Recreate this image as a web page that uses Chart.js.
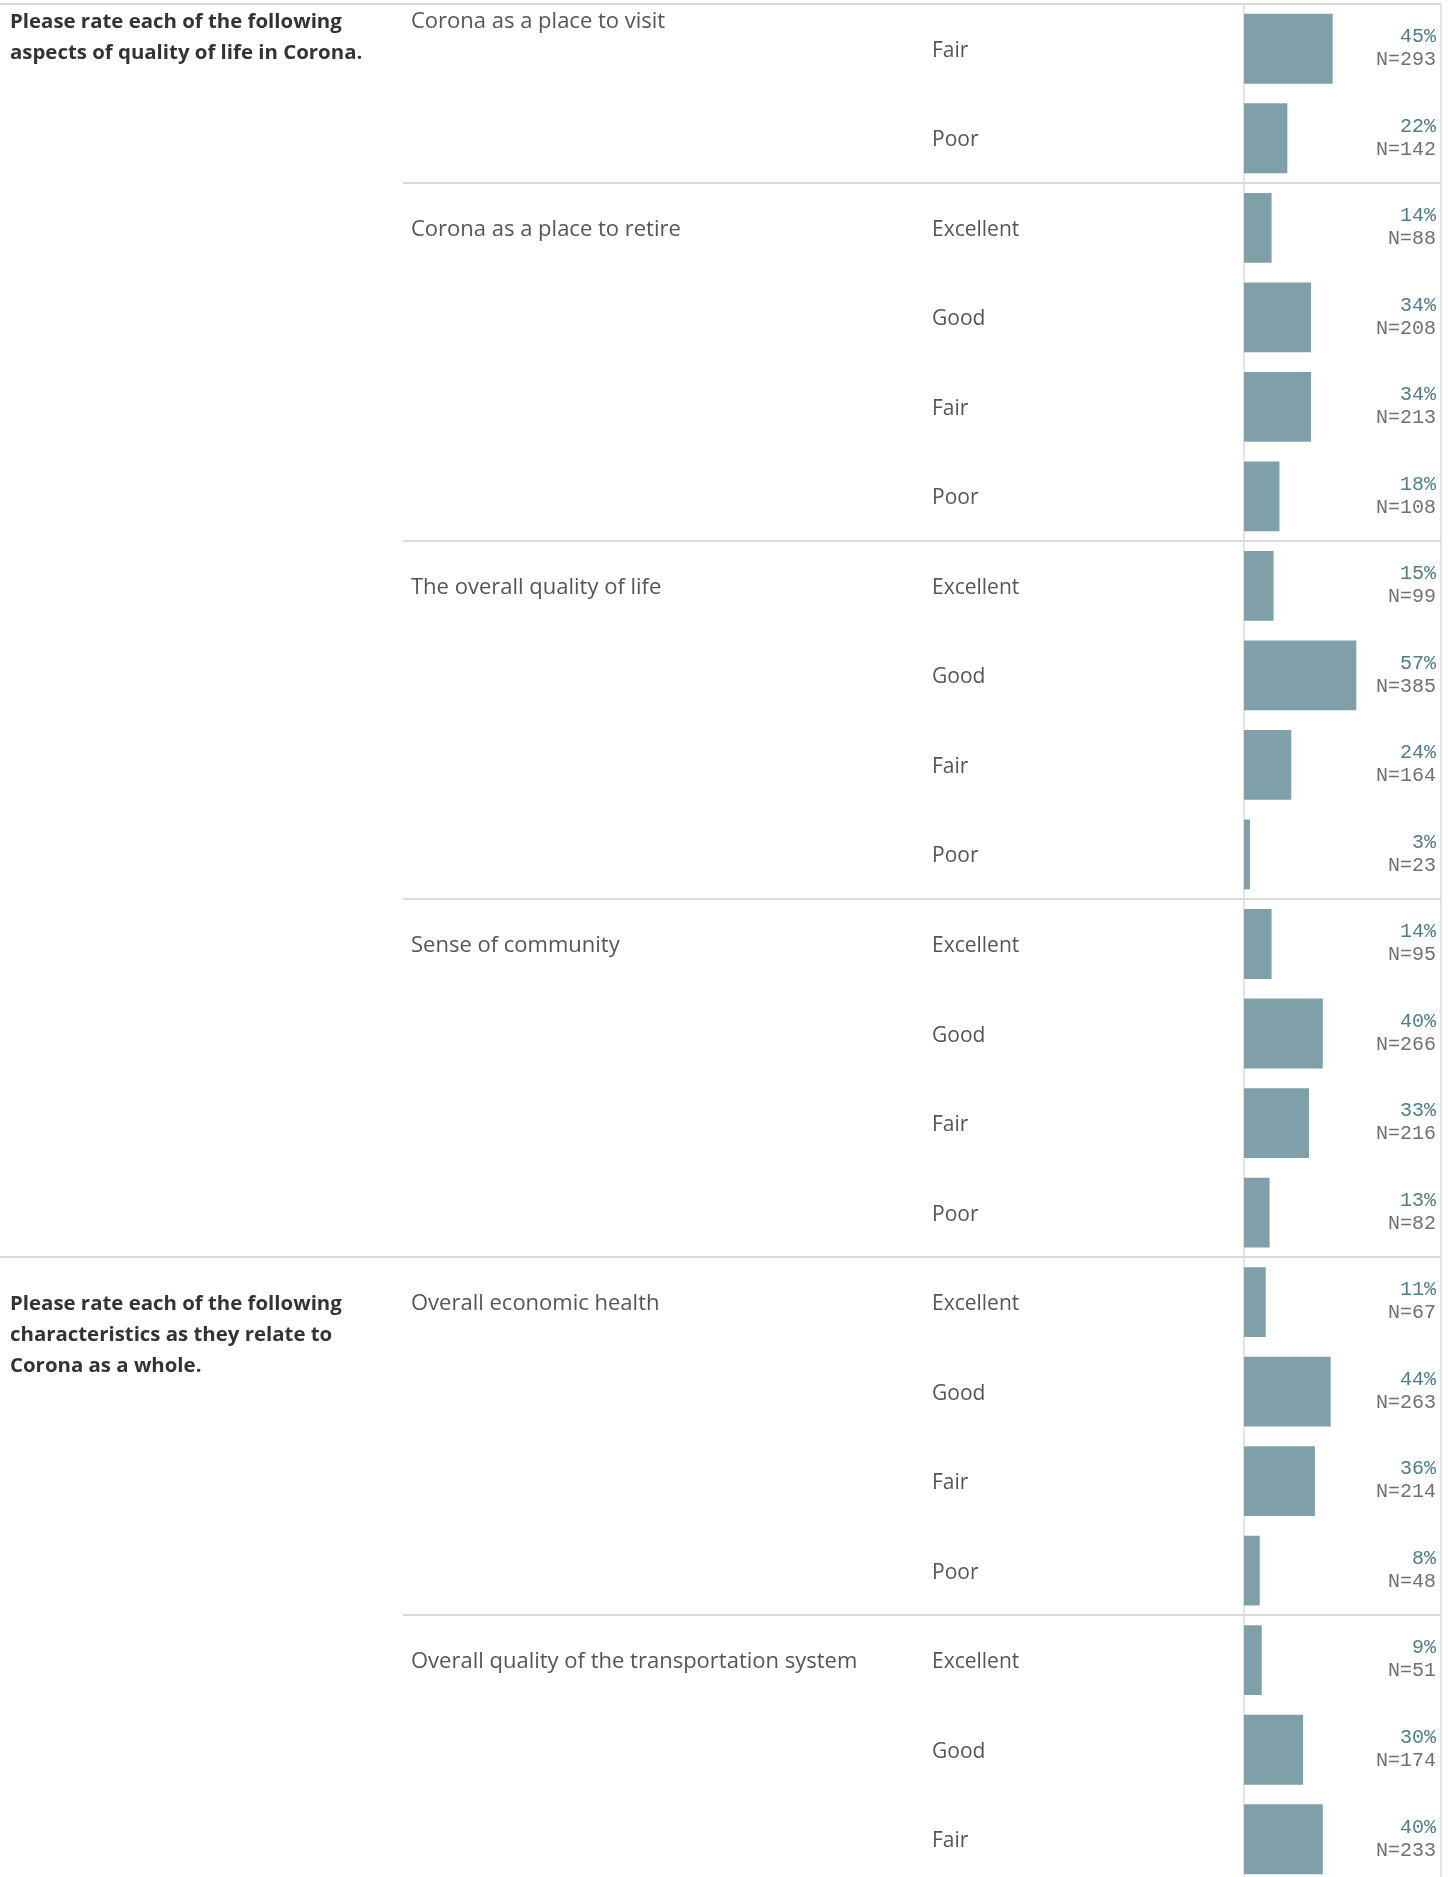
<!DOCTYPE html>
<html>
<head>
<meta charset="utf-8">
<script src="https://cdn.jsdelivr.net/npm/chart.js@4"></script>
<style>
  html, body { margin: 0; padding: 0; background: #fff; overflow: hidden; }
  #wrap { width: 1455px; height: 1877px; overflow: hidden; }
</style>
</head>
<body>
<div id="wrap"><canvas id="chart" width="1455" height="1884"></canvas></div>
<script>
// question groups (left column) and the items they contain
const groupTitles = [
  ["Please rate each of the following", "aspects of quality of life in Corona."],
  ["Please rate each of the following", "characteristics as they relate to", "Corona as a whole."]
];
const sectionNames = [
  "Corona as a place to visit",
  "Corona as a place to retire",
  "The overall quality of life",
  "Sense of community",
  "Overall economic health",
  "Overall quality of the transportation system"
];
const sectionGroup = [0, 0, 0, 0, 1, 1];

// one entry per visible row
const rowSection = [0, 0, 1, 1, 1, 1, 2, 2, 2, 2, 3, 3, 3, 3, 4, 4, 4, 4, 5, 5, 5];
const rowRatings = [
  "Fair", "Poor",
  "Excellent", "Good", "Fair", "Poor",
  "Excellent", "Good", "Fair", "Poor",
  "Excellent", "Good", "Fair", "Poor",
  "Excellent", "Good", "Fair", "Poor",
  "Excellent", "Good", "Fair"
];
const percents = [45, 22, 14, 34, 34, 18, 15, 57, 24, 3, 14, 40, 33, 13, 11, 44, 36, 8, 9, 30, 40];
const counts = [293, 142, 88, 208, 213, 108, 99, 385, 164, 23, 95, 266, 216, 82, 67, 263, 214, 48, 51, 174, 233];

const BAR_COLOR = "#7fa0a8";
const LINE_COLOR = "#dadada";
const SANS = "'Open Sans', 'Noto Sans', sans-serif";
const MONO = "'Courier New', 'Liberation Mono', monospace";

const tablePlugin = {
  id: "tableText",
  beforeDatasetsDraw(chart) {
    const ctx = chart.ctx;
    const area = chart.chartArea;
    const y = chart.scales.y;
    const half = (y.getPixelForValue(1) - y.getPixelForValue(0)) / 2;
    ctx.save();
    ctx.strokeStyle = LINE_COLOR;
    ctx.lineWidth = 2;
    // top rule
    ctx.beginPath();
    ctx.moveTo(0, area.top);
    ctx.lineTo(area.right, area.top);
    ctx.stroke();
    // section / group separators
    for (let i = 1; i < rowSection.length; i++) {
      if (rowSection[i] === rowSection[i - 1]) continue;
      const yy = Math.round(y.getPixelForValue(i) - half);
      const newGroup = sectionGroup[rowSection[i]] !== sectionGroup[rowSection[i - 1]];
      ctx.beginPath();
      ctx.moveTo(newGroup ? 0 : 403, yy);
      ctx.lineTo(area.right, yy);
      ctx.stroke();
    }
    // pane borders
    ctx.lineWidth = 1.5;
    ctx.beginPath();
    ctx.moveTo(area.left, area.top);
    ctx.lineTo(area.left, area.bottom);
    ctx.moveTo(area.right, area.top);
    ctx.lineTo(area.right, area.bottom);
    ctx.stroke();
    ctx.restore();
  },
  afterDatasetsDraw(chart) {
    const ctx = chart.ctx;
    const area = chart.chartArea;
    const y = chart.scales.y;
    ctx.save();
    ctx.textBaseline = "middle";

    // rating labels and value labels
    rowRatings.forEach((r, i) => {
      const cy = y.getPixelForValue(i);
      ctx.textAlign = "left";
      ctx.fillStyle = "#555555";
      ctx.font = "21px " + SANS;
      ctx.fillText(r, 932, cy + 2);
      ctx.textAlign = "right";
      ctx.font = "20px " + MONO;
      ctx.fillStyle = "#4f7e8b";
      ctx.fillText(percents[i] + "%", area.right - 5, cy - 12);
      ctx.fillStyle = "#707070";
      ctx.fillText("N=" + counts[i], area.right - 5, cy + 11);
    });

    // section labels (first one is pinned to the top, its earlier rows are scrolled off)
    ctx.textAlign = "left";
    sectionNames.forEach((name, s) => {
      const first = rowSection.indexOf(s);
      const cy = s === 0 ? area.top + 16 : y.getPixelForValue(first);
      ctx.fillStyle = "#555555";
      ctx.font = "22px " + SANS;
      ctx.fillText(name, 411, cy + 2);
    });

    // group titles
    groupTitles.forEach((lines, g) => {
      const firstSection = sectionGroup.indexOf(g);
      const first = rowSection.indexOf(firstSection);
      const cy = g === 0 ? area.top + 16 : y.getPixelForValue(first);
      ctx.fillStyle = "#333333";
      ctx.font = "bold 20.4px " + SANS;
      lines.forEach((ln, k) => ctx.fillText(ln, 10, cy + 2 + k * 31));
    });
    ctx.restore();
  }
};

new Chart(document.getElementById("chart"), {
  type: "bar",
  data: {
    labels: rowRatings.map((_, i) => i),
    datasets: [{
      data: percents,
      backgroundColor: BAR_COLOR,
      borderWidth: 0,
      barPercentage: 0.78,
      categoryPercentage: 1
    }]
  },
  options: {
    indexAxis: "y",
    responsive: false,
    animation: false,
    devicePixelRatio: 1,
    layout: { padding: { left: 1244, right: 14, top: 4, bottom: 0 } },
    scales: {
      x: { display: false, min: 0, max: 100 },
      y: { display: false }
    },
    plugins: {
      legend: { display: false },
      tooltip: { enabled: false }
    }
  },
  plugins: [tablePlugin]
});
</script>
</body>
</html>
